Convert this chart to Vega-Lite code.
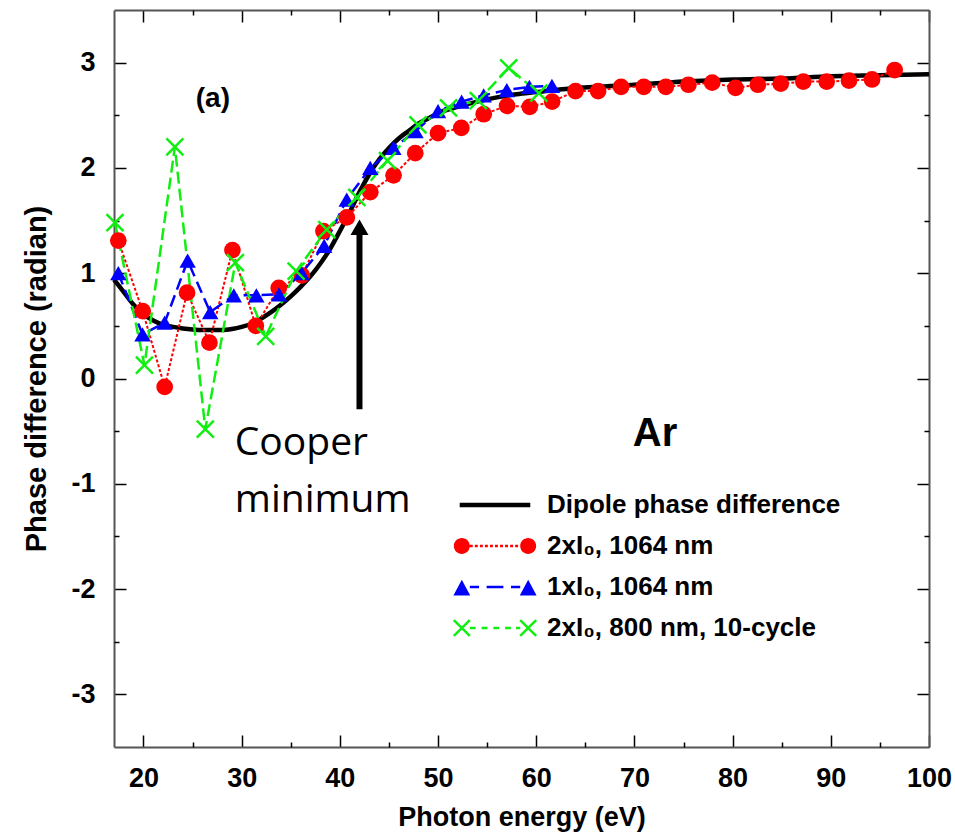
{
  "$schema": "https://vega.github.io/schema/vega-lite/v6.json",
  "width": 815,
  "height": 737,
  "autosize": {"type": "none"},
  "padding": {"left": 114, "top": 10, "right": 26, "bottom": 92},
  "background": "white",
  "config": {
    "view": {"stroke": null},
    "axis": {
      "labelFont": "Liberation Sans", "labelFontWeight": "bold", "labelFontSize": 27, "labelColor": "black",
      "titleFont": "Liberation Sans", "titleFontWeight": "bold", "titleColor": "black",
      "domainColor": "#555555", "domainWidth": 2, "tickColor": "black", "tickWidth": 1.5, "grid": false,
      "labelFlush": false, "labelOverlap": false
    }
  },
  "datasets": {
    "dipole": [
      {"x": 17, "y": 0.94}, {"x": 18, "y": 0.82}, {"x": 19, "y": 0.70}, {"x": 20, "y": 0.61},
      {"x": 21, "y": 0.55}, {"x": 22, "y": 0.51}, {"x": 23, "y": 0.49}, {"x": 24, "y": 0.475},
      {"x": 25, "y": 0.465}, {"x": 26, "y": 0.46}, {"x": 27, "y": 0.46}, {"x": 28, "y": 0.46},
      {"x": 29, "y": 0.47}, {"x": 30, "y": 0.49}, {"x": 31, "y": 0.52}, {"x": 32, "y": 0.57},
      {"x": 33, "y": 0.63}, {"x": 34, "y": 0.70}, {"x": 35, "y": 0.78}, {"x": 36, "y": 0.87},
      {"x": 37, "y": 0.97}, {"x": 38, "y": 1.09}, {"x": 39, "y": 1.23}, {"x": 40, "y": 1.40},
      {"x": 41, "y": 1.58}, {"x": 42, "y": 1.77}, {"x": 43, "y": 1.94}, {"x": 44, "y": 2.08},
      {"x": 45, "y": 2.19}, {"x": 46, "y": 2.28}, {"x": 47, "y": 2.35}, {"x": 48, "y": 2.42},
      {"x": 49, "y": 2.47}, {"x": 50, "y": 2.52}, {"x": 52, "y": 2.58}, {"x": 54, "y": 2.63},
      {"x": 56, "y": 2.67}, {"x": 58, "y": 2.70}, {"x": 60, "y": 2.72}, {"x": 63, "y": 2.75},
      {"x": 66, "y": 2.77}, {"x": 70, "y": 2.79}, {"x": 75, "y": 2.82}, {"x": 80, "y": 2.84},
      {"x": 85, "y": 2.85}, {"x": 90, "y": 2.87}, {"x": 95, "y": 2.88}, {"x": 100, "y": 2.89}
    ],
    "red": [
      {"x": 17.44, "y": 1.31}, {"x": 19.92, "y": 0.64}, {"x": 22.16, "y": -0.08}, {"x": 24.44, "y": 0.815},
      {"x": 26.72, "y": 0.34}, {"x": 29.06, "y": 1.22}, {"x": 31.44, "y": 0.50}, {"x": 33.78, "y": 0.86},
      {"x": 36.13, "y": 0.98}, {"x": 38.33, "y": 1.40}, {"x": 40.71, "y": 1.53}, {"x": 43.1, "y": 1.77},
      {"x": 45.47, "y": 1.93}, {"x": 47.68, "y": 2.14}, {"x": 50.0, "y": 2.33}, {"x": 52.37, "y": 2.38},
      {"x": 54.65, "y": 2.51}, {"x": 57.03, "y": 2.59}, {"x": 59.34, "y": 2.58}, {"x": 61.62, "y": 2.63},
      {"x": 64.0, "y": 2.73}, {"x": 66.3, "y": 2.73}, {"x": 68.64, "y": 2.77}, {"x": 70.95, "y": 2.77},
      {"x": 73.2, "y": 2.77}, {"x": 75.5, "y": 2.79}, {"x": 77.92, "y": 2.81}, {"x": 80.3, "y": 2.76},
      {"x": 82.57, "y": 2.79}, {"x": 84.9, "y": 2.80}, {"x": 87.2, "y": 2.82}, {"x": 89.58, "y": 2.82},
      {"x": 91.85, "y": 2.83}, {"x": 94.2, "y": 2.84}, {"x": 96.5, "y": 2.93}
    ],
    "blue": [
      {"x": 17.44, "y": 1.00}, {"x": 19.9, "y": 0.42}, {"x": 22.16, "y": 0.53}, {"x": 24.5, "y": 1.12},
      {"x": 26.8, "y": 0.63}, {"x": 29.2, "y": 0.79}, {"x": 31.5, "y": 0.79}, {"x": 33.8, "y": 0.80},
      {"x": 36.1, "y": 1.00}, {"x": 38.4, "y": 1.26}, {"x": 40.7, "y": 1.70}, {"x": 43.1, "y": 2.00},
      {"x": 45.45, "y": 2.19}, {"x": 47.7, "y": 2.35}, {"x": 50.0, "y": 2.54}, {"x": 52.4, "y": 2.63},
      {"x": 54.65, "y": 2.69}, {"x": 57.0, "y": 2.74}, {"x": 59.3, "y": 2.77}, {"x": 61.6, "y": 2.78}
    ],
    "green": [
      {"x": 17.1, "y": 1.48}, {"x": 20.1, "y": 0.126}, {"x": 23.2, "y": 2.20}, {"x": 26.3, "y": -0.48},
      {"x": 29.36, "y": 1.10}, {"x": 32.45, "y": 0.40}, {"x": 35.55, "y": 1.02}, {"x": 38.67, "y": 1.415},
      {"x": 41.73, "y": 1.72}, {"x": 44.85, "y": 2.07}, {"x": 47.96, "y": 2.41}, {"x": 51.07, "y": 2.57},
      {"x": 54.1, "y": 2.64}, {"x": 57.2, "y": 2.95}, {"x": 60.27, "y": 2.71}
    ],
    "series": [
      {"s": "Dipole phase difference"}, {"s": "2xI₀, 1064 nm"}, {"s": "1xI₀, 1064 nm"}, {"s": "2xI₀, 800 nm, 10-cycle"}
    ]
  },
  "layer": [
    {
      "data": {"name": "dipole"},
      "mark": {"type": "line", "color": "black", "strokeWidth": 4.5, "interpolate": "monotone"},
      "encoding": {
        "x": {"field": "x", "type": "quantitative", "scale": {"domain": [17, 100], "nice": false, "zero": false},
          "axis": {"orient": "bottom", "values": [20, 30, 40, 50, 60, 70, 80, 90, 100], "tickSize": -12, "labelPadding": 30,
            "title": "Photon energy (eV)", "titleFontSize": 27, "titlePadding": 13}},
        "y": {"field": "y", "type": "quantitative", "scale": {"domain": [-3.5, 3.5], "nice": false, "zero": false},
          "axis": {"orient": "left", "values": [-3, -2, -1, 0, 1, 2, 3], "tickSize": -12, "labelPadding": 31,
            "labelExpr": "datum.value < 0 ? '-' + abs(datum.value) : '' + datum.value",
            "title": "Phase difference (radian)", "titleFontSize": 29, "titlePadding": 19}}
      }
    },
    {
      "data": {"name": "red"},
      "mark": {"type": "line", "color": "#ff0000", "strokeWidth": 2, "strokeDash": [3, 2]},
      "encoding": {
        "x": {"field": "x", "type": "quantitative",
          "axis": {"orient": "bottom", "values": [25, 35, 45, 55, 65, 75, 85, 95], "tickSize": -5, "labels": false, "domain": false, "title": null}},
        "y": {"field": "y", "type": "quantitative",
          "axis": {"orient": "left", "values": [-2.5, -1.5, -0.5, 0.5, 1.5, 2.5], "tickSize": -5, "labels": false, "domain": false, "title": null}}
      }
    },
    {
      "data": {"name": "blue"},
      "mark": {"type": "line", "color": "#0000ff", "strokeWidth": 2.5, "strokeDash": [12, 6]},
      "encoding": {
        "x": {"field": "x", "type": "quantitative",
          "axis": {"orient": "top", "values": [20, 30, 40, 50, 60, 70, 80, 90, 100], "tickSize": -12, "labels": false, "title": null}},
        "y": {"field": "y", "type": "quantitative",
          "axis": {"orient": "right", "values": [-3, -2, -1, 0, 1, 2, 3], "tickSize": -12, "labels": false, "title": null}}
      }
    },
    {
      "data": {"name": "green"},
      "mark": {"type": "line", "color": "#11ee11", "strokeWidth": 2.5, "strokeDash": [12, 5]},
      "encoding": {
        "x": {"field": "x", "type": "quantitative",
          "axis": {"orient": "top", "values": [25, 35, 45, 55, 65, 75, 85, 95], "tickSize": -5, "labels": false, "domain": false, "title": null}},
        "y": {"field": "y", "type": "quantitative",
          "axis": {"orient": "right", "values": [-2.5, -1.5, -0.5, 0.5, 1.5, 2.5], "tickSize": -5, "labels": false, "domain": false, "title": null}}
      }
    },
    {
      "data": {"name": "red"},
      "mark": {"type": "point", "shape": "circle", "filled": true, "color": "#ff0000", "opacity": 1, "size": 280},
      "encoding": {
        "x": {"field": "x", "type": "quantitative", "axis": null},
        "y": {"field": "y", "type": "quantitative", "axis": null}
      }
    },
    {
      "data": {"name": "blue"},
      "mark": {"type": "point", "shape": "triangle-up", "filled": true, "color": "#0000ff", "opacity": 1, "size": 270},
      "encoding": {
        "x": {"field": "x", "type": "quantitative", "axis": null},
        "y": {"field": "y", "type": "quantitative", "axis": null}
      }
    },
    {
      "data": {"name": "green"},
      "mark": {"type": "point", "shape": "M-1,-1L1,1M-1,1L1,-1", "filled": false, "color": "#11ee11", "strokeWidth": 2.5, "opacity": 1, "size": 289},
      "encoding": {
        "x": {"field": "x", "type": "quantitative", "axis": null},
        "y": {"field": "y", "type": "quantitative", "axis": null}
      }
    },
    {
      "data": {"values": [{}]},
      "mark": {"type": "rule", "color": "black", "strokeWidth": 6},
      "encoding": {
        "x": {"datum": 42.0, "type": "quantitative", "axis": null},
        "y": {"datum": -0.291, "type": "quantitative", "axis": null},
        "y2": {"datum": 1.39}
      }
    },
    {
      "data": {"values": [{}]},
      "mark": {"type": "point", "shape": "triangle-up", "filled": true, "color": "black", "opacity": 1, "size": 324},
      "encoding": {
        "x": {"datum": 42.0, "type": "quantitative", "axis": null},
        "y": {"datum": 1.436, "type": "quantitative", "axis": null}
      }
    },
    {
      "data": {"values": [{}]},
      "mark": {"type": "text", "text": "(a)", "font": "Liberation Sans", "fontWeight": "bold", "fontSize": 28, "align": "center", "baseline": "alphabetic", "color": "black"},
      "encoding": {
        "x": {"datum": 27.07, "type": "quantitative", "axis": null},
        "y": {"datum": 2.58, "type": "quantitative", "axis": null}
      }
    },
    {
      "data": {"values": [{}]},
      "mark": {"type": "text", "text": "Ar", "font": "Liberation Sans", "fontWeight": "bold", "fontSize": 40, "align": "center", "baseline": "alphabetic", "color": "black"},
      "encoding": {
        "x": {"datum": 72.1, "type": "quantitative", "axis": null},
        "y": {"datum": -0.64, "type": "quantitative", "axis": null}
      }
    },
    {
      "data": {"values": [{}]},
      "mark": {"type": "text", "text": ["Cooper", "minimum"], "font": "Open Sans", "fontSize": 39, "lineHeight": 57, "align": "left", "baseline": "alphabetic", "color": "black"},
      "encoding": {
        "x": {"datum": 29.3, "type": "quantitative", "axis": null},
        "y": {"datum": -0.727, "type": "quantitative", "axis": null}
      }
    },
    {
      "data": {"name": "series"},
      "mark": {"type": "point", "filled": true, "opacity": 0, "size": 7056},
      "encoding": {
        "color": {"field": "s", "type": "nominal",
          "scale": {"domain": ["Dipole phase difference", "2xI₀, 1064 nm", "1xI₀, 1064 nm", "2xI₀, 800 nm, 10-cycle"],
                    "range": ["#000000", "#ff0000", "#0000ff", "#11ee11"]},
          "legend": {"orient": "none", "legendX": 339, "legendY": 474.5, "title": null, "padding": 0,
            "symbolSize": 7056, "symbolStrokeWidth": 0, "symbolOffset": 0, "symbolOpacity": 1, "clipHeight": 41, "rowPadding": 0,
            "labelOffset": 10, "labelFont": "Liberation Sans", "labelFontWeight": "bold", "labelFontSize": 26, "labelColor": "black", "labelLimit": 500,
            "encode": {"symbols": {"update": {"opacity": {"value": 1}}}}}},
        "shape": {"field": "s", "type": "nominal",
          "scale": {"domain": ["Dipole phase difference", "2xI₀, 1064 nm", "1xI₀, 1064 nm", "2xI₀, 800 nm, 10-cycle"],
                    "range": [
                      "M-0.84,-0.055L0.84,-0.055L0.84,0.055L-0.84,0.055Z",
                      "M-0.98,0A0.19,0.19,0,1,0,-0.6,0A0.19,0.19,0,1,0,-0.98,0ZM0.6,0A0.19,0.19,0,1,0,0.98,0A0.19,0.19,0,1,0,0.6,0ZM-0.6,-0.028L-0.53,-0.028L-0.53,0.028L-0.6,0.028ZM-0.48,-0.028L-0.41,-0.028L-0.41,0.028L-0.48,0.028ZM-0.36,-0.028L-0.29,-0.028L-0.29,0.028L-0.36,0.028ZM-0.24,-0.028L-0.17,-0.028L-0.17,0.028L-0.24,0.028ZM-0.12,-0.028L-0.05,-0.028L-0.05,0.028L-0.12,0.028ZM0,-0.028L0.07,-0.028L0.07,0.028L0,0.028ZM0.12,-0.028L0.19,-0.028L0.19,0.028L0.12,0.028ZM0.24,-0.028L0.31,-0.028L0.31,0.028L0.24,0.028ZM0.36,-0.028L0.43,-0.028L0.43,0.028L0.36,0.028ZM0.48,-0.028L0.55,-0.028L0.55,0.028L0.48,0.028Z",
                      "M-0.99,0.2L-0.59,0.2L-0.79,-0.17ZM0.59,0.2L0.99,0.2L0.79,-0.17ZM-0.6,-0.03L-0.38,-0.03L-0.38,0.03L-0.6,0.03ZM-0.2,-0.03L0.2,-0.03L0.2,0.03L-0.2,0.03ZM0.38,-0.03L0.6,-0.03L0.6,0.03L0.38,0.03Z",
                      "M-1.001,-0.169L-0.621,0.211L-0.579,0.169L-0.959,-0.211ZM-0.959,0.211L-0.579,-0.169L-0.621,-0.211L-1.001,0.169ZM0.579,-0.169L0.959,0.211L1.001,0.169L0.621,-0.211ZM0.621,0.211L1.001,-0.169L0.959,-0.211L0.579,0.169ZM-0.6,-0.03L-0.46,-0.03L-0.46,0.03L-0.6,0.03ZM-0.32,-0.03L-0.18,-0.03L-0.18,0.03L-0.32,0.03ZM-0.04,-0.03L0.1,-0.03L0.1,0.03L-0.04,0.03ZM0.24,-0.03L0.38,-0.03L0.38,0.03L0.24,0.03ZM0.5,-0.03L0.6,-0.03L0.6,0.03L0.5,0.03Z"
                    ]},
          "legend": {"orient": "none", "legendX": 339, "legendY": 474.5, "title": null, "padding": 0,
            "symbolSize": 7056, "symbolStrokeWidth": 0, "symbolOffset": 0, "symbolOpacity": 1, "clipHeight": 41, "rowPadding": 0,
            "labelOffset": 10, "labelFont": "Liberation Sans", "labelFontWeight": "bold", "labelFontSize": 26, "labelColor": "black", "labelLimit": 500,
            "encode": {"symbols": {"update": {"opacity": {"value": 1}}}}}}
      }
    }
  ],
  "resolve": {"axis": {"x": "independent", "y": "independent"}}
}
